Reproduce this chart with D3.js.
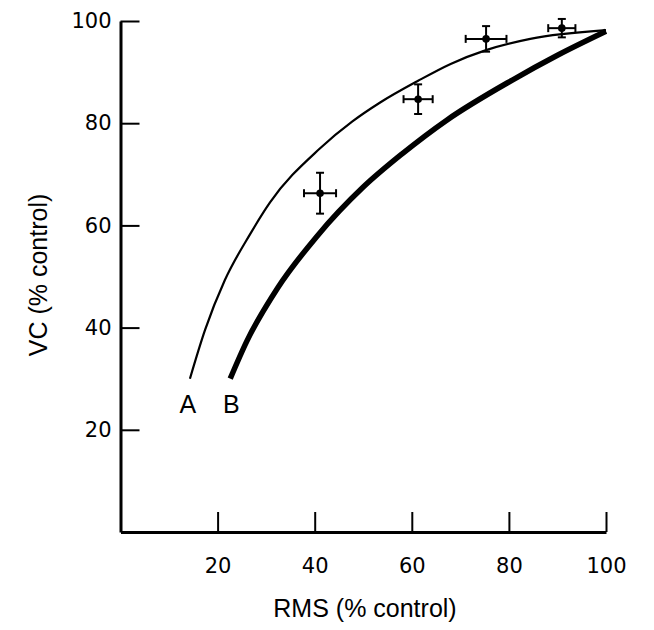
<!DOCTYPE html>
<html>
<head>
<meta charset="utf-8">
<script src="https://cdn.jsdelivr.net/npm/d3@7"></script>
<style>
  body { margin: 0; background: #fff; }
  svg text { font-family: "Liberation Sans", Arial, sans-serif; fill: #000; }
</style>
</head>
<body>
<svg width="654" height="630"></svg>
<script>
// curve A (thin) and curve B (thick)
const curveA = [
  [14.3, 30], [17.4, 39.5], [21.5, 49.3], [26.7, 58.3], [30.8, 64.5],
  [41, 75], [47.7, 80.3], [53.4, 84], [61.3, 88.3], [68, 91.6],
  [75.3, 94.3], [84.4, 96.5], [100, 98.2]
];
const curveB = [
  [22.6, 30], [26, 37.3], [32.4, 47.8], [40.4, 57.8], [50, 67.5],
  [58, 74], [67.2, 80.6], [80.8, 88.5], [90, 93.3], [100, 98]
];
// measured points: x, y, x error, y error
const pointX = [41.1, 61.3, 75.3, 90.9];
const pointY = [66.3, 84.7, 96.5, 98.6];
const errX = [3.3, 3.0, 4.2, 2.8];
const errY = [4.0, 2.9, 2.5, 1.8];
const tickValues = [20, 40, 60, 80, 100];

const svg = d3.select("svg");

const x = d3.scaleLinear().domain([0, 100]).range([120.5, 606]);
const y = d3.scaleLinear().domain([0, 100]).range([532, 21]);

// axes: ticks point inward
svg.append("g")
  .attr("transform", `translate(0,${y(0)})`)
  .call(d3.axisBottom(x).tickValues(tickValues).tickSize(-20).tickSizeOuter(0).tickPadding(26))
  .call(g => g.select(".domain").attr("stroke-width", 3))
  .call(g => g.selectAll(".tick line").attr("stroke-width", 2))
  .call(g => g.selectAll(".tick text").attr("font-size", 21)
    .style("font-family", "'DejaVu Sans', sans-serif"));

svg.append("g")
  .attr("transform", `translate(${x(0)},0)`)
  .call(d3.axisLeft(y).tickValues(tickValues).tickSize(-19).tickSizeOuter(0).tickPadding(9))
  .call(g => g.select(".domain").attr("stroke-width", 3))
  .call(g => g.selectAll(".tick line").attr("stroke-width", 2))
  .call(g => g.selectAll(".tick text").attr("font-size", 21)
    .style("font-family", "'DejaVu Sans', sans-serif"));

const line = d3.line()
  .x(d => x(d[0]))
  .y(d => y(d[1]))
  .curve(d3.curveMonotoneX);

svg.append("path")
  .datum(curveA)
  .attr("d", line)
  .attr("fill", "none")
  .attr("stroke", "#000")
  .attr("stroke-width", 2.2);

svg.append("path")
  .datum(curveB)
  .attr("d", line)
  .attr("fill", "none")
  .attr("stroke", "#000")
  .attr("stroke-width", 5.5);

// error bars
const pts = pointX.map((v, i) => ({x: v, y: pointY[i], ex: errX[i], ey: errY[i]}));
const cap = 4;
const eb = svg.append("g").attr("stroke", "#000").attr("stroke-width", 2);
pts.forEach(d => {
  eb.append("line")
    .attr("x1", x(d.x - d.ex)).attr("x2", x(d.x + d.ex))
    .attr("y1", y(d.y)).attr("y2", y(d.y));
  eb.append("line")
    .attr("x1", x(d.x)).attr("x2", x(d.x))
    .attr("y1", y(d.y - d.ey)).attr("y2", y(d.y + d.ey));
  [d.x - d.ex, d.x + d.ex].forEach(v => eb.append("line")
    .attr("x1", x(v)).attr("x2", x(v))
    .attr("y1", y(d.y) - cap).attr("y2", y(d.y) + cap));
  [d.y - d.ey, d.y + d.ey].forEach(v => eb.append("line")
    .attr("x1", x(d.x) - cap).attr("x2", x(d.x) + cap)
    .attr("y1", y(v)).attr("y2", y(v)));
});
svg.append("g")
  .selectAll("circle")
  .data(pts)
  .join("circle")
  .attr("cx", d => x(d.x))
  .attr("cy", d => y(d.y))
  .attr("r", 3.8)
  .attr("fill", "#000");

// curve labels
svg.append("text").attr("x", x(curveA[0][0]) - 2).attr("y", y(curveA[0][1]) + 34)
  .attr("text-anchor", "middle").attr("font-size", 25).text("A");
svg.append("text").attr("x", x(curveB[0][0]) + 1).attr("y", y(curveB[0][1]) + 34)
  .attr("text-anchor", "middle").attr("font-size", 25).text("B");

// axis titles
svg.append("text")
  .attr("x", 365).attr("y", 617)
  .attr("text-anchor", "middle").attr("font-size", 25)
  .text("RMS (% control)");

svg.append("text")
  .attr("transform", "translate(47,275) rotate(-90)")
  .attr("text-anchor", "middle").attr("font-size", 25)
  .text("VC (% control)");
</script>
</body>
</html>
